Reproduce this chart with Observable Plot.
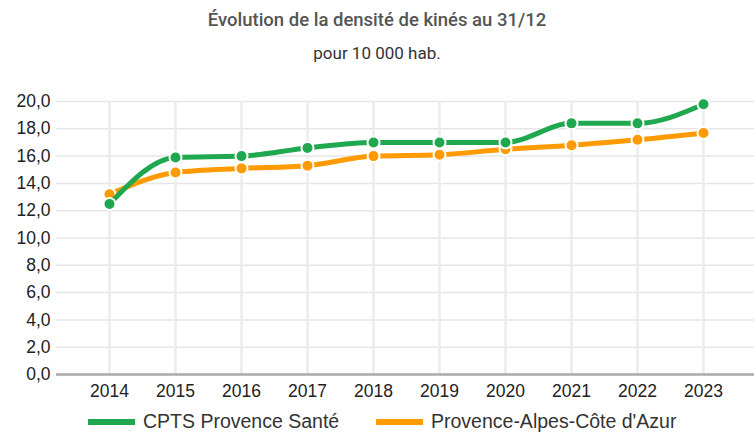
<!DOCTYPE html>
<html>
<head>
<meta charset="utf-8">
<script src="https://cdn.jsdelivr.net/npm/d3@7"></script>
<script src="https://cdn.jsdelivr.net/npm/@observablehq/plot@0.6"></script>
<style>
  html, body { margin: 0; padding: 0; background: #fff; }
  body { width: 754px; height: 434px; overflow: hidden; font-family: "Liberation Sans", Arial, sans-serif; }
  #title { height: 36px; line-height: 40px; text-align: center; font-family: Roboto, sans-serif; font-size: 18.5px; font-weight: 500; color: #555; }
  #subtitle { height: 28px; line-height: 34px; text-align: center; font-family: Roboto, sans-serif; font-size: 17px; color: #333; }
  #chart svg { display: block; }
  #legend { position: relative; height: 24px; }
  .item { position: absolute; top: 1px; display: flex; align-items: center; font-size: 19.5px; line-height: 21px; color: #333; white-space: nowrap; }
  .sw { width: 47px; height: 6px; margin-right: 8px; }
</style>
</head>
<body>
<div id="title">Évolution de la densité de kinés au 31/12</div>
<div id="subtitle">pour 10 000 hab.</div>
<div id="chart"></div>
<div id="legend"></div>
<script>
const years = [2014, 2015, 2016, 2017, 2018, 2019, 2020, 2021, 2022, 2023];
const cpts = [12.5, 15.9, 16.0, 16.6, 17.0, 17.0, 17.0, 18.4, 18.4, 19.8];
const paca = [13.2, 14.8, 15.1, 15.3, 16.0, 16.1, 16.5, 16.8, 17.2, 17.7];
const seriesNames = ["CPTS Provence Santé", "Provence-Alpes-Côte d'Azur"];
const colors = ["#1fa84f", "#ff9a00"];
const yTicks = [0, 2, 4, 6, 8, 10, 12, 14, 16, 18, 20];

const dCpts = years.map((y, i) => ({year: y, value: cpts[i]}));
const dPaca = years.map((y, i) => ({year: y, value: paca[i]}));
const fmt = v => v.toFixed(1).replace(".", ",");

const plot = Plot.plot({
  width: 754,
  height: 346,
  marginTop: 37,
  marginBottom: 36,
  marginLeft: 56,
  marginRight: 0,
  style: {fontFamily: "'Liberation Sans', Arial, sans-serif", fontSize: "17px", color: "#222"},
  x: {type: "point", domain: years, padding: 0, insetLeft: 51, insetRight: 49, label: null},
  y: {domain: [0, 20], label: null},
  marks: [
    Plot.ruleY(yTicks.filter(t => t > 0), {stroke: "#e6e6e6", strokeWidth: 1.5, strokeOpacity: 1}),
    Plot.ruleX(years, {stroke: "#ececec", strokeWidth: 2.5, strokeOpacity: 1}),
    Plot.ruleY([0], {stroke: "#aaa", strokeWidth: 2.5}),
    Plot.axisY({ticks: yTicks, tickFormat: fmt, tickSize: 0, tickPadding: 6, fontSize: 17.5, label: null}),
    Plot.axisX({ticks: years, tickFormat: d => String(d), tickSize: 0, tickPadding: 10, fontSize: 17.5, label: null}),
    Plot.line(dPaca, {x: "year", y: "value", stroke: colors[1], strokeWidth: 5, curve: "monotone-x"}),
    Plot.dot(dPaca, {x: "year", y: "value", r: 6, fill: colors[1], stroke: "#fff", strokeWidth: 2}),
    Plot.line(dCpts, {x: "year", y: "value", stroke: colors[0], strokeWidth: 5, curve: "monotone-x"}),
    Plot.dot(dCpts, {x: "year", y: "value", r: 6, fill: colors[0], stroke: "#fff", strokeWidth: 2})
  ]
});
document.getElementById("chart").appendChild(plot);

const legend = document.getElementById("legend");
const lefts = [88, 376];
seriesNames.forEach((n, i) => {
  const it = document.createElement("div");
  it.className = "item";
  it.style.left = lefts[i] + "px";
  it.innerHTML = `<span class="sw" style="background:${colors[i]}"></span><span>${n}</span>`;
  legend.appendChild(it);
});
</script>
</body>
</html>
